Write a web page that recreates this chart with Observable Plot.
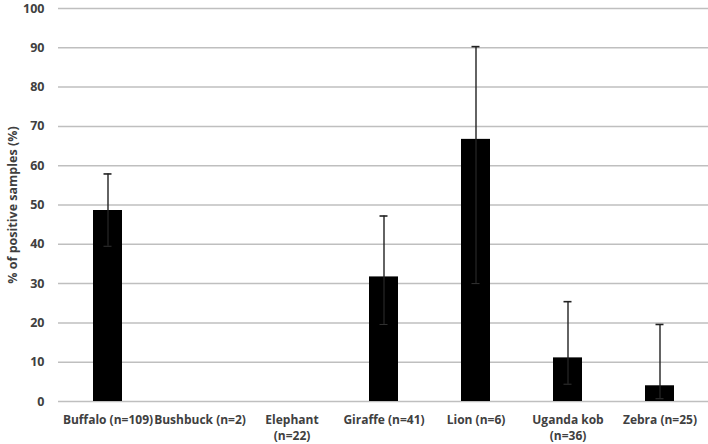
<!DOCTYPE html>
<html>
<head>
<meta charset="utf-8">
<script src="https://cdn.jsdelivr.net/npm/d3@7"></script>
<script src="https://cdn.jsdelivr.net/npm/@observablehq/plot@0.6"></script>
<style>
  html, body { margin: 0; padding: 0; background: #fff; }
  svg { display: block; }
  svg text { font-weight: 700; }
</style>
</head>
<body>
<div id="chart"></div>
<script>
const categories = ["Buffalo (n=109)", "Bushbuck (n=2)", "Elephant\n(n=22)", "Giraffe (n=41)", "Lion (n=6)", "Uganda kob\n(n=36)", "Zebra (n=25)"];
const values = [48.6, 0, 0, 31.7, 66.7, 11.1, 4.0];
const lower = [39.5, null, null, 19.6, 30.0, 4.4, 0.7];
const upper = [57.9, null, null, 47.2, 90.3, 25.4, 19.6];
const yTicks = [0, 10, 20, 30, 40, 50, 60, 70, 80, 90, 100];

const data = categories.map((c, i) => ({cat: c, value: values[i], lo: lower[i], hi: upper[i]}));
const withBars = data.filter(d => d.value > 0);
const withErr = data.filter(d => d.lo != null);

const chart = Plot.plot({
  width: 708,
  height: 444,
  marginLeft: 58,
  marginRight: 0,
  marginTop: 8,
  marginBottom: 43,
  style: {fontFamily: "'Open Sans', sans-serif", fontSize: "12px", fontWeight: "bold", color: "#404040", background: "#fff"},
  x: {domain: categories, paddingInner: 0.69, paddingOuter: 0.345, label: null},
  y: {domain: [0, 100], label: null},
  marks: [
    Plot.gridY(yTicks, {stroke: "#bfbfbf", strokeOpacity: 1, strokeWidth: 1.5}),
    Plot.barY(withBars, {x: "cat", y: "value", fill: "#000"}),
    Plot.ruleX(withErr, {x: "cat", y1: "lo", y2: "hi", stroke: "#222", strokeWidth: 1.4}),
    Plot.tickY(withErr, {x: "cat", y: "hi", stroke: "#222", strokeWidth: 1.6, insetLeft: 10.5, insetRight: 10.5}),
    Plot.tickY(withErr, {x: "cat", y: "lo", stroke: "#333", strokeWidth: 1, insetLeft: 10.5, insetRight: 10.5}),
    Plot.axisY({ticks: yTicks, tickSize: 0, tickPadding: 14, fontSize: 12.5, label: "% of positive samples (%)", labelAnchor: "center", labelArrow: "none", labelOffset: 50}),
    Plot.axisX({tickSize: 0, tickPadding: 11, lineHeight: 1.35, fontSize: 12, label: null})
  ]
});
document.getElementById("chart").appendChild(chart);
</script>
</body>
</html>
